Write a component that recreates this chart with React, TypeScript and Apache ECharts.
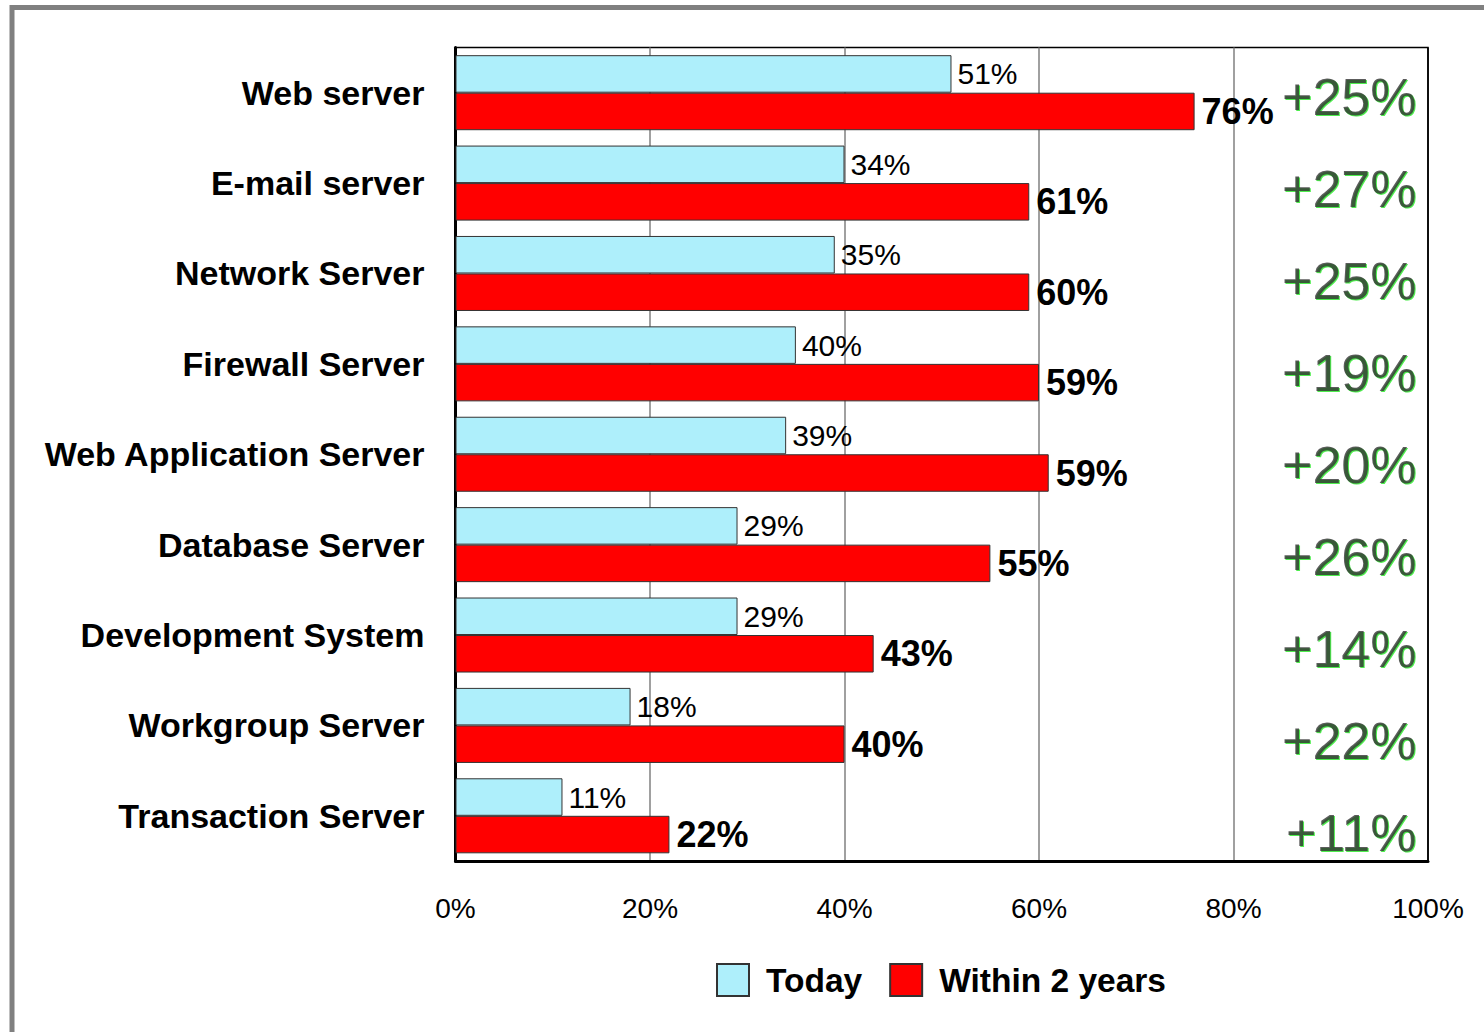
import React, { useEffect, useRef } from "react";
import * as echarts from "echarts";

const categories = [
  "Web server",
  "E-mail server",
  "Network Server",
  "Firewall Server",
  "Web Application Server",
  "Database Server",
  "Development System",
  "Workgroup Server",
  "Transaction Server",
];
// bar lengths as drawn
const todayValues = [51, 40, 39, 35, 34, 29, 29, 18, 11];
const futureValues = [76, 59, 59, 60, 61, 55, 43, 40, 22];
// label texts as printed
const todayLabels = [51, 34, 35, 40, 39, 29, 29, 18, 11];
const futureLabels = [76, 61, 60, 59, 59, 55, 43, 40, 22];
const deltaLabels = ["+25%", "+27%", "+25%", "+19%", "+20%", "+26%", "+14%", "+22%", "+11%"];
const xTicks = [0, 20, 40, 60, 80, 100];

const FONT = "'Liberation Sans', Arial, sans-serif";

function deltaSeries(color: string, offset: number[], z: number) {
  return {
    type: "scatter",
    xAxisIndex: 1,
    yAxisIndex: 1,
    symbolSize: 1,
    silent: true,
    z,
    itemStyle: { color: "rgba(0,0,0,0)" },
    data: deltaLabels.map((_, i) => [100, i]),
    label: {
      show: true,
      position: "left",
      distance: 11,
      offset,
      formatter: (p: any) => deltaLabels[p.dataIndex],
      fontFamily: FONT,
      fontSize: 52,
      color,
    },
  };
}

export default function App() {
  const ref = useRef<HTMLDivElement>(null);
  useEffect(() => {
    if (!ref.current) return;
    const chart = echarts.init(ref.current, undefined, { renderer: "svg" });
    chart.setOption({
      animation: false,
      backgroundColor: "#ffffff",
      textStyle: { fontFamily: FONT },
      graphic: [
        {
          type: "rect",
          shape: { x: 12, y: 7.5, width: 1500, height: 1100 },
          style: { fill: "none", stroke: "#808080", lineWidth: 5 },
          z: 0,
        },
      ],
      legend: {
        left: 716,
        top: 963,
        padding: 0,
        itemWidth: 32,
        itemHeight: 32,
        itemGap: 27,
        icon: "rect",
        data: ["Today", "Within 2 years"],
        textStyle: {
          fontFamily: FONT,
          fontSize: 33.5,
          fontWeight: "bold",
          color: "#000",
          padding: [0, 0, 0, 12],
        },
      },
      grid: [
        {
          left: 455.5,
          right: 56,
          top: 47.5,
          bottom: 171,
          show: true,
          borderColor: "#000",
          borderWidth: 1.5,
          backgroundColor: "transparent",
        },
        { left: 455.5, right: 56, top: 51, height: 828, show: false },
      ],
      xAxis: [
        {
          type: "value",
          gridIndex: 0,
          min: 0,
          max: 100,
          interval: 20,
          axisLine: { show: true, lineStyle: { color: "#000", width: 3 } },
          axisTick: { show: false },
          splitLine: {
            show: true,
            lineStyle: {
              color: ["#000", "#808080", "#808080", "#808080", "#808080", "#000"],
              width: 1.5,
            },
          },
          axisLabel: {
            formatter: (v: number) => (xTicks.includes(v) ? v + "%" : ""),
            fontFamily: FONT,
            fontSize: 28,
            color: "#000",
            margin: 33,
          },
        },
        { type: "value", gridIndex: 1, min: 0, max: 100, show: false },
      ],
      yAxis: [
        {
          type: "category",
          gridIndex: 0,
          data: categories,
          inverse: true,
          axisLine: { show: true, lineStyle: { color: "#000", width: 3 } },
          axisTick: { show: false },
          splitLine: { show: false },
          axisLabel: {
            fontFamily: FONT,
            fontSize: 34,
            fontWeight: "bold",
            color: "#000",
            margin: 31,
          },
        },
        {
          type: "category",
          gridIndex: 1,
          data: categories,
          inverse: true,
          show: false,
        },
      ],
      series: [
        {
          name: "Today",
          type: "bar",
          xAxisIndex: 0,
          yAxisIndex: 0,
          data: todayValues,
          barGap: "0%",
          barCategoryGap: "17%",
          itemStyle: { color: "#AEEFFB", borderColor: "#333", borderWidth: 1 },
          label: {
            show: true,
            position: "right",
            distance: 6,
            formatter: (p: any) => todayLabels[p.dataIndex] + "%",
            fontFamily: FONT,
            fontSize: 30,
            color: "#000",
          },
        },
        {
          name: "Within 2 years",
          type: "bar",
          xAxisIndex: 0,
          yAxisIndex: 0,
          data: futureValues,
          barGap: "0%",
          barCategoryGap: "17%",
          itemStyle: { color: "#FF0000", borderColor: "#333", borderWidth: 1 },
          label: {
            show: true,
            position: "right",
            distance: 7,
            formatter: (p: any) => futureLabels[p.dataIndex] + "%",
            fontFamily: FONT,
            fontSize: 36,
            fontWeight: "bold",
            color: "#000",
          },
        },
        deltaSeries("#22e822", [1, 1], 3),
        deltaSeries("#333333", [0, 0], 4),
      ],
    });
    return () => chart.dispose();
  }, []);
  return (
    <div
      ref={ref}
      style={{ position: "absolute", left: 0, top: 0, width: 1484, height: 1032, background: "#fff" }}
    />
  );
}
